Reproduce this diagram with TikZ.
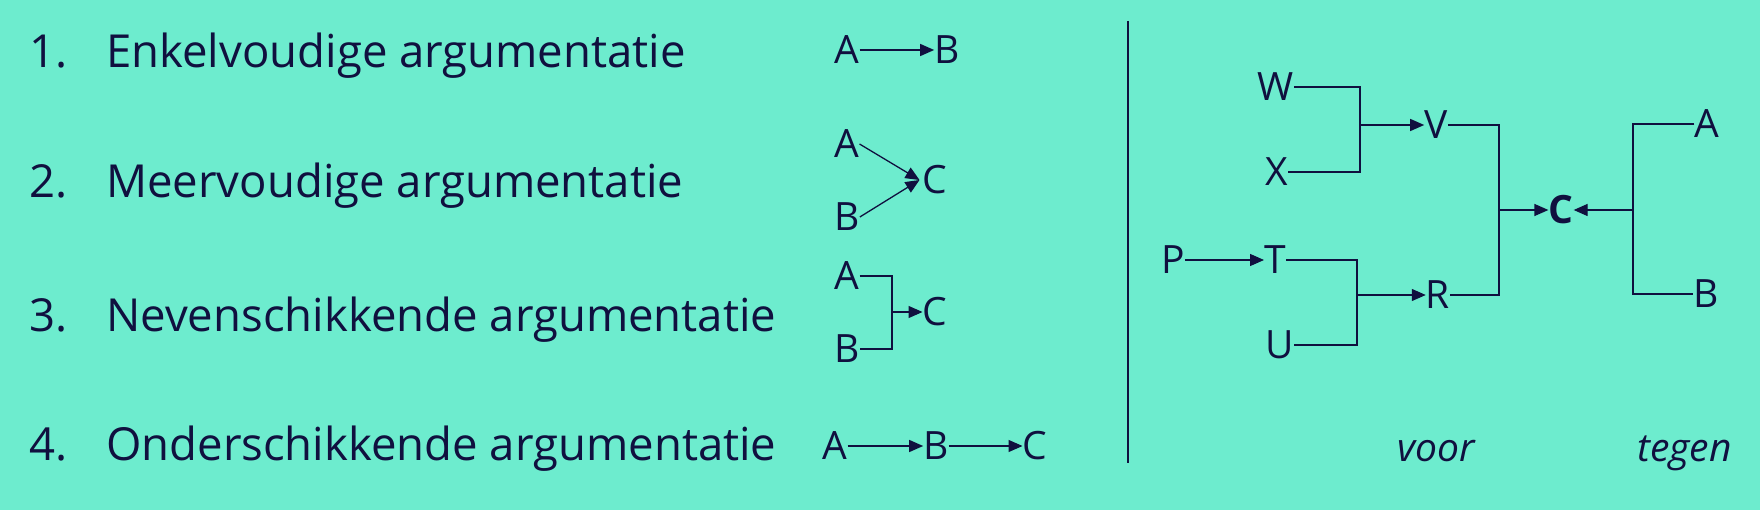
\documentclass[tikz,border=0pt]{standalone}
\usepackage{fontspec}
\setmainfont{Open Sans}
\usetikzlibrary{arrows.meta}
\definecolor{bg}{HTML}{6DECCE}
\definecolor{ink}{HTML}{10103F}
\begin{document}
\begin{tikzpicture}[x=1pt,y=-1pt,
  lbl/.style={anchor=base west,inner sep=0pt,text=ink,font=\fontsize{45.5}{50}\selectfont},
  let/.style={inner sep=0pt,text=ink,font=\fontsize{39}{42}\selectfont},
  side/.style={anchor=base west,inner sep=0pt,text=ink,font=\fontsize{39}{42}\selectfont\itshape},
  ln/.style={draw=ink,line width=1.3pt},
  arr/.style={ln,-{Triangle[length=14pt,width=12pt]}}]
\path[fill=bg] (0,0) rectangle (1760,510);
% left labels
\node[lbl] (n1) at (29,68) {1.};
\node[lbl] (t1) at (106,68) {Enkelvoudige argumentatie};
\node[lbl] (n2) at (29,198) {2.};
\node[lbl] (t2) at (106,198) {Meervoudige argumentatie};
\node[lbl] (n3) at (29,331) {3.};
\node[lbl] (t3) at (106,331) {Nevenschikkende argumentatie};
\node[lbl] (n4) at (29,460) {4.};
\node[lbl] (t4) at (106,460) {Onderschikkende argumentatie};
% diagram 1
\node[let] (a1) at (847,50) {A};
\node[let] (b1) at (947,50) {B};
\draw[arr] (a1.east) -- (b1.west);
% diagram 2
\node[let] (a2) at (847,144) {A};
\node[let] (b2) at (847,217) {B};
\node[let] (c2) at (935,180) {C};
\draw[arr] (a2.east) -- ([xshift=-3pt]c2.west);
\draw[arr] (b2.east) -- ([xshift=-3pt]c2.west);
% diagram 3
\node[let] (a3) at (847,276) {A};
\node[let] (b3) at (847,349) {B};
\node[let] (c3) at (935,312) {C};
\coordinate (j3) at (892,312);
\draw[ln] (a3.east) -| (j3) |- (b3.east);
\draw[arr] (j3) -- (c3.west);
% diagram 4
\node[let] (a4) at (835,446) {A};
\node[let] (b4) at (936,446) {B};
\node[let] (c4) at (1035,446) {C};
\draw[arr] (a4.east) -- (b4.west);
\draw[arr] (b4.east) -- (c4.west);
% divider
\coordinate (d1) at (1128,21);
\coordinate (d2) at (1128,463);
\draw[ln] (d1) -- (d2);
% right diagram
\node[let] (w) at (1276,87) {W};
\node[let] (x) at (1277,172) {X};
\node[let] (v) at (1436,125) {V};
\node[let] (p) at (1173,260) {P};
\node[let] (t) at (1275,260) {T};
\node[let] (u) at (1280,345) {U};
\node[let] (r) at (1438,295) {R};
\node[let,font=\fontsize{39}{42}\selectfont\bfseries] (c) at (1561,210) {C};
\node[let] (ra) at (1707,124) {A};
\node[let] (rb) at (1706,294) {B};
\coordinate (jwx) at (1360,125);
\coordinate (jtu) at (1357,295);
\coordinate (jvr) at (1499,210);
\coordinate (jab) at (1633,210);
\draw[ln] (w.east) -| (jwx) |- (x.east);
\draw[arr] (jwx) -- (v.west);
\draw[arr] (p.east) -- (t.west);
\draw[ln] (t.east) -| (jtu) |- (u.east);
\draw[arr] (jtu) -- (r.west);
\draw[ln] (v.east) -| (jvr) |- (r.east);
\draw[arr] (jvr) -- (c.west);
\draw[ln] (ra.west) -| (jab) |- (rb.west);
\draw[arr] (jab) -- (c.east);
\node[side] (voor) at (1397,461) {voor};
\node[side] (tegen) at (1637,461) {tegen};
\end{tikzpicture}
\end{document}
